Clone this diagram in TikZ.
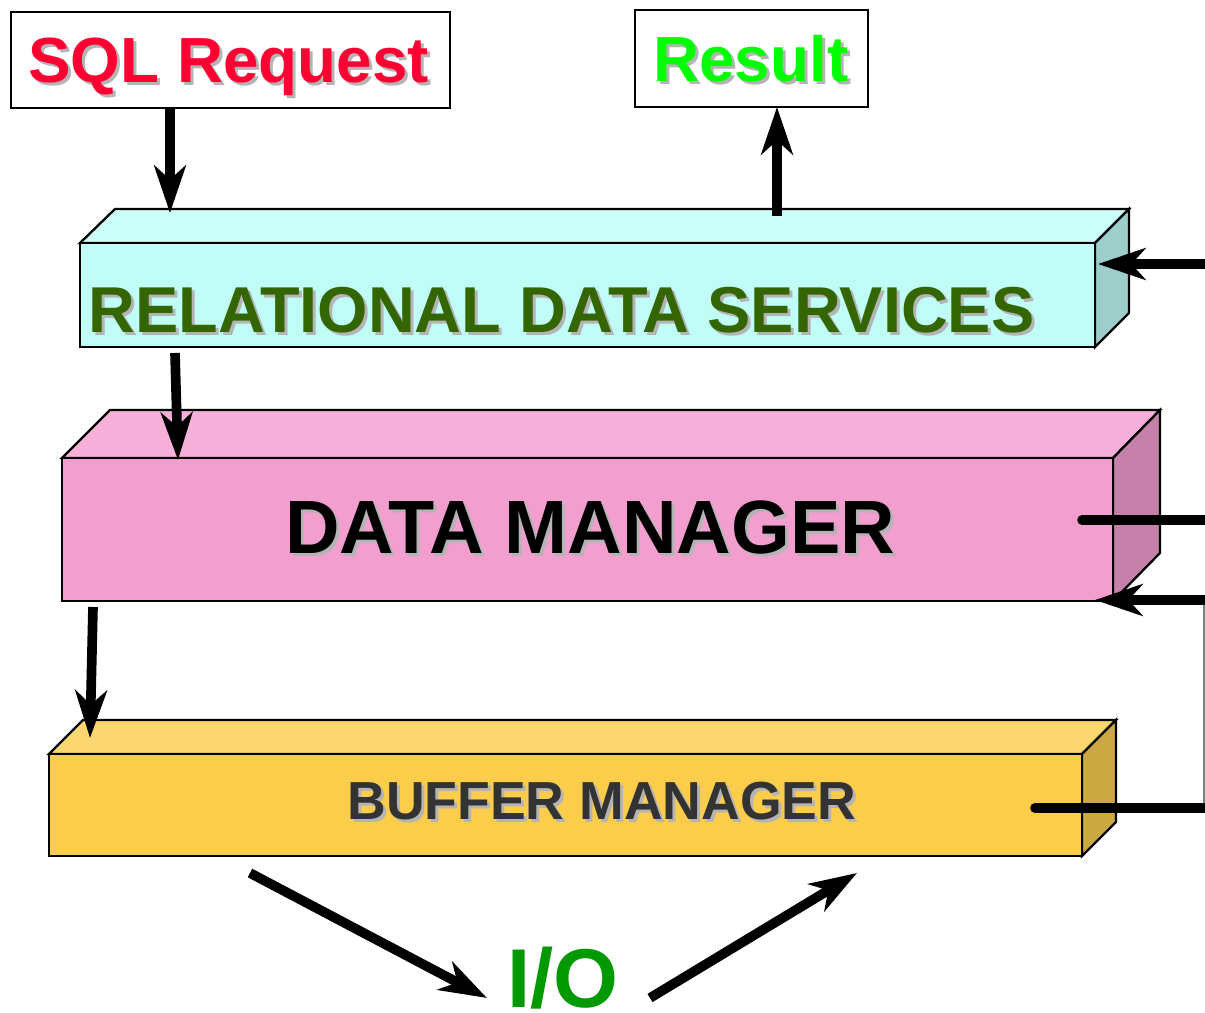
\documentclass[tikz,border=0pt]{standalone}
\usepackage{fontspec}
\setmainfont{Liberation Sans}
\usetikzlibrary{arrows.meta}

\definecolor{rdstop}{HTML}{CCFFFA}
\definecolor{rdsfront}{HTML}{BFFDF6}
\definecolor{rdsside}{HTML}{9ECEC9}
\definecolor{dmtop}{HTML}{F6B0D9}
\definecolor{dmfront}{HTML}{F29ECF}
\definecolor{dmside}{HTML}{C581A9}
\definecolor{bmtop}{HTML}{FCD771}
\definecolor{bmfront}{HTML}{FCCC4B}
\definecolor{bmside}{HTML}{CCA843}
\definecolor{sqlred}{HTML}{FF0033}
\definecolor{resgreen}{HTML}{00FF00}
\definecolor{rdsgreen}{HTML}{336600}
\definecolor{iogreen}{HTML}{009900}
\definecolor{bmgray}{HTML}{333333}
\definecolor{shade}{HTML}{B4B4B4}

\begin{document}
\begin{tikzpicture}[x=0.02cm,y=-0.02cm,
  edge/.style={draw=black,line width=1.3pt,line join=miter},
  lbl/.style={anchor=base west,inner sep=0pt},
  big/.style={font=\bfseries\fontsize{36.3}{40}\selectfont},
  rdsfont/.style={font=\bfseries\fontsize{36.9}{40}\selectfont},
  dmfont/.style={font=\bfseries\fontsize{43}{46}\selectfont},
  bmfont/.style={font=\bfseries\fontsize{30.5}{34}\selectfont},
  bigarrow/.style={line width=5.5pt,-{Stealth[length=27pt,width=18pt,inset=8pt]}},
  stub/.style={line width=5.5pt,line cap=round},
  labelbox/.style={draw=black,line width=1.3pt,fill=white,inner sep=0pt,anchor=north west}]
\useasboundingbox (0,0) rectangle (1205,1013);

% ---- Relational data services slab
\path[edge,fill=rdstop] (80,243) -- (115,209) -- (1129,209) -- (1095,243) -- cycle;
\path[edge,fill=rdsside] (1095,243) -- (1129,209) -- (1129,313) -- (1095,347) -- cycle;
\path[edge,fill=rdsfront] (80,243) rectangle (1095,347);

% ---- Data manager slab
\path[edge,fill=dmtop] (62,458) -- (110,410) -- (1160,410) -- (1113,458) -- cycle;
\path[edge,fill=dmside] (1113,458) -- (1160,410) -- (1160,553) -- (1113,601) -- cycle;
\path[edge,fill=dmfront] (62,458) rectangle (1113,601);

% ---- Buffer manager slab
\path[edge,fill=bmtop] (49,754) -- (83,720) -- (1116,720) -- (1082,754) -- cycle;
\path[edge,fill=bmside] (1082,754) -- (1116,720) -- (1116,822) -- (1082,856) -- cycle;
\path[edge,fill=bmfront] (49,754) rectangle (1082,856);

% ---- Request / result boxes
\node[labelbox,minimum width=8.78cm,minimum height=1.92cm] (sqlbox) at (10,11) {};
\node[labelbox,minimum width=4.66cm,minimum height=1.94cm] (resbox) at (634,9) {};

% ---- Labels with drop shadows
\node[lbl,big,text=shade] (sqlsh) at (31,86) {SQL Request};
\node[lbl,big,text=sqlred] (sqltxt) at (28,83) {SQL Request};
\node[lbl,big,text=shade] (ressh) at (656,85) {Result};
\node[lbl,big,text=resgreen] (restxt) at (653,82) {Result};
\node[lbl,rdsfont,text=shade] (rdssh) at (91,336) {RELATIONAL DATA SERVICES};
\node[lbl,rdsfont,text=rdsgreen] (rdstxt) at (88,333) {RELATIONAL DATA SERVICES};
\node[lbl,dmfont,text=shade] (dmsh) at (288,557) {DATA MANAGER};
\node[lbl,dmfont,text=black] (dmtxt) at (285,554) {DATA MANAGER};
\node[lbl,bmfont,text=shade] (bmsh) at (350,823) {BUFFER MANAGER};
\node[lbl,bmfont,text=bmgray] (bmtxt) at (347,820) {BUFFER MANAGER};
\node[lbl,text=iogreen,font=\bfseries\fontsize{47.5}{50}\selectfont] (io) at (507,1007) {I/O};

% ---- Connector end points
\coordinate (sqlout) at (170,107);
\coordinate (rdsin) at (170,213);
\coordinate (rdsout) at (777,216);
\coordinate (resin) at (777,107);
\coordinate (rdsfeedsrc) at (1205,264);
\coordinate (rdsfeed) at (1098,264);
\coordinate (rdsdown) at (175,353);
\coordinate (dmin) at (178,460);
\coordinate (dmdown) at (93,607);
\coordinate (bmin) at (90,738);
\coordinate (dmstub) at (1082,520);
\coordinate (dmstubend) at (1205,520);
\coordinate (loopin) at (1205,600);
\coordinate (dmret) at (1095,600);
\coordinate (loopup) at (1204,600);
\coordinate (loopdown) at (1204,808);
\coordinate (bmstub) at (1035,808);
\coordinate (bmstubend) at (1205,808);
\coordinate (bmio) at (250,873);
\coordinate (ioin) at (487,998);
\coordinate (ioout) at (650,998);
\coordinate (bmret) at (857,873);

% ---- Connectors
\draw[bigarrow] (sqlout) -- (rdsin);
\draw[bigarrow] (rdsout) -- (resin);
\draw[bigarrow] (rdsfeedsrc) -- (rdsfeed);
\draw[bigarrow] (rdsdown) -- (dmin);
\draw[bigarrow] (dmdown) -- (bmin);
\draw[stub] (dmstub) -- (dmstubend);
\draw[gray,line width=0.9pt] (loopup) -- (loopdown);
\draw[stub] (bmstub) -- (bmstubend);
\draw[bigarrow] (loopin) -- (dmret);
\draw[bigarrow] (bmio) -- (ioin);
\draw[bigarrow] (ioout) -- (bmret);
\end{tikzpicture}
\end{document}
